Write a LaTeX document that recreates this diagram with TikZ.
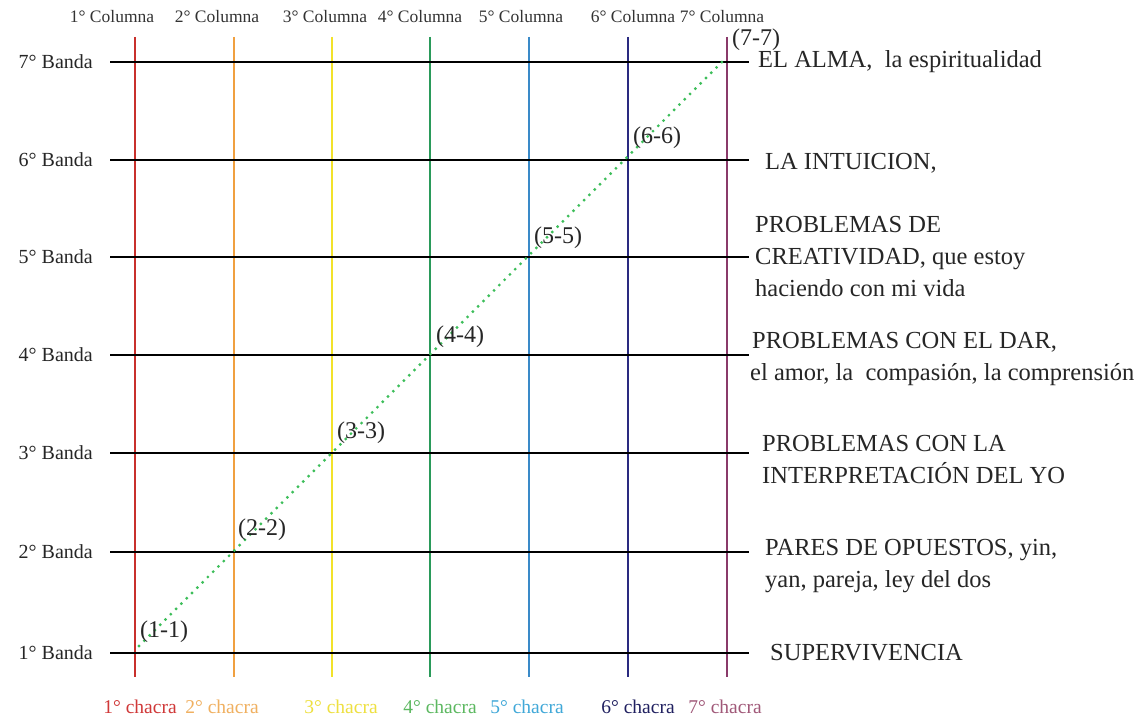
\documentclass[tikz,border=0pt]{standalone}
\usepackage{fontspec}
\setmainfont{Liberation Serif}
\definecolor{c1}{HTML}{C8302C}
\definecolor{c2}{HTML}{F0A040}
\definecolor{c3}{HTML}{F2E22A}
\definecolor{c4}{HTML}{2A9A5A}
\definecolor{c5}{HTML}{3A8AC8}
\definecolor{c6}{HTML}{2A2A80}
\definecolor{c7}{HTML}{8A3A6A}
\definecolor{k1}{HTML}{D03838}
\definecolor{k2}{HTML}{F0B060}
\definecolor{k3}{HTML}{EEE040}
\definecolor{k4}{HTML}{5CB860}
\definecolor{k5}{HTML}{40A8D8}
\definecolor{k6}{HTML}{202060}
\definecolor{k7}{HTML}{A05878}
\definecolor{dgreen}{HTML}{3DBE5A}
\begin{document}
\begin{tikzpicture}[x=1pt,y=-1pt,
  hline/.style={black,line width=1.7pt},
  vline/.style={line width=1.4pt},
  band/.style={anchor=east,font=\fontsize{20}{24}\selectfont,text=black!85,inner sep=0pt},
  colhead/.style={font=\fontsize{17.5}{20}\selectfont,text=black!80,inner sep=0pt},
  chac/.style={font=\fontsize{19.5}{22}\selectfont,inner sep=0pt},
  desc/.style={anchor=west,align=left,font=\fontsize{24.5}{32}\selectfont,text=black!85,inner sep=0pt},
  coordlbl/.style={anchor=west,font=\fontsize{24}{26}\selectfont,text=black!85,inner sep=0pt},
  diag/.style={draw=dgreen,line width=3.2pt,line cap=round,dash pattern=on 0pt off 7.5pt}
]
\useasboundingbox (0,0) rectangle (1147,719);
\fill[white] (0,0) rectangle (1147,719);

% columns
\foreach \i/\x/\c in {1/135/c1,2/234/c2,3/332/c3,4/430/c4,5/529/c5,6/628/c6,7/727/c7}{
  \coordinate (ct\i) at (\x,37);
  \coordinate (cb\i) at (\x,677);
  \draw[vline,\c] (ct\i) -- (cb\i);
}

% bands
\foreach \j/\y in {1/653,2/552,3/453,4/355,5/257,6/160,7/62}{
  \coordinate (bl\j) at (110,\y);
  \coordinate (br\j) at (749,\y);
  \draw[hline] (bl\j) -- (br\j);
  \node[band] (bn\j) at (93,\y) {\j° Banda};
}

% column headers
\foreach \i/\x in {1/112,2/217,3/325,4/420,5/521,6/633,7/722}{
  \node[colhead] (ch\i) at (\x,17) {\i° Columna};
}

% chacra labels
\foreach \i/\x/\c in {1/140/k1,2/222/k2,3/341/k3,4/440/k4,5/527/k5,6/638/k6,7/725/k7}{
  \node[chac,text=\c] (kl\i) at (\x,707) {\i° chacra};
}

% diagonal
\coordinate (d1) at (139,646);
\coordinate (d7) at (726,58);
\draw[diag] (d1) -- (d7);

% coordinate labels
\foreach \k/\x/\y in {1/140/632,2/238/530,3/337/433,4/436/337,5/534/238,6/633/138,7/732/40}{
  \node[coordlbl] (p\k) at (\x,\y) {(\k-\k)};
}

% descriptions
\node[desc] (t7) at (758,62) {EL ALMA,\ \ la espiritualidad};
\node[desc] (t6) at (765,163) {LA INTUICION,};
\node[desc] (t5) at (755,257) {PROBLEMAS DE\\CREATIVIDAD, que estoy\\haciendo con mi vida};
\node[desc] (t4) at (750,359) {\hspace{2pt}PROBLEMAS CON EL DAR,\\el amor, la\ \ compasión, la comprensión};
\node[desc] (t3) at (762,460) {PROBLEMAS CON LA\\INTERPRETACIÓN DEL YO};
\node[desc] (t2) at (765,566) {PARES DE OPUESTOS, yin,\\yan, pareja, ley del dos};
\node[desc] (t1) at (770,653) {SUPERVIVENCIA};
\end{tikzpicture}
\end{document}
